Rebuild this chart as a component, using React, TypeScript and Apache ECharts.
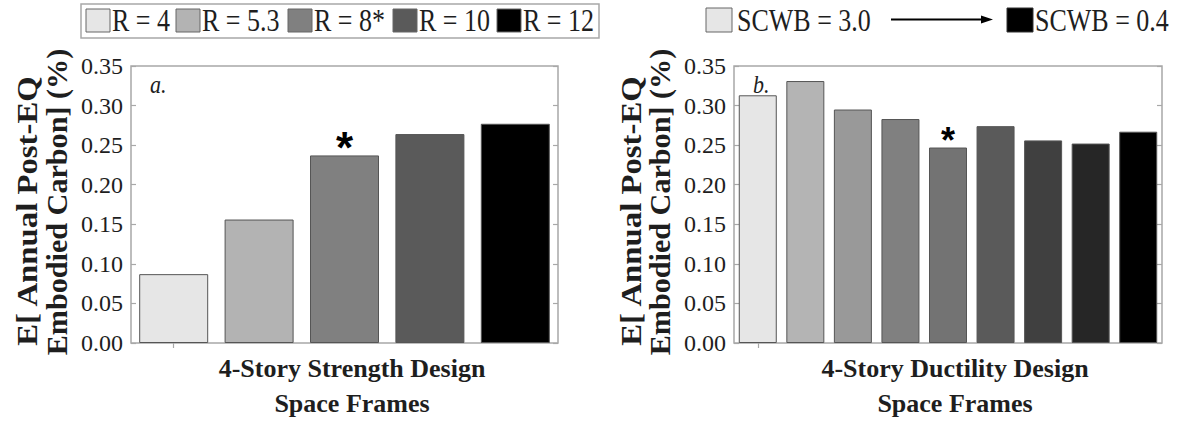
import React, { useEffect, useRef } from "react";
import * as echarts from "echarts";

// ---------- data ----------
const leftCategories = ["R = 4", "R = 5.3", "R = 8*", "R = 10", "R = 12"];
const leftValues = [0.087, 0.156, 0.237, 0.264, 0.277];
const leftStarIndex = 2;

const rightCategories = ["SCWB = 3.0", "D2", "D3", "D4", "D5", "D6", "D7", "D8", "SCWB = 0.4"];
const rightValues = [0.313, 0.331, 0.295, 0.283, 0.247, 0.274, 0.256, 0.252, 0.267];
const rightStarIndex = 4;

const yTickValues = [0, 0.05, 0.1, 0.15, 0.2, 0.25, 0.3, 0.35];

const leftLegendLabels = ["R = 4", "R = 5.3", "R = 8*", "R = 10", "R = 12"];
const rightLegendLabels = ["SCWB = 3.0", "SCWB = 0.4"];

const yTitleLines = ["E[ Annual Post-EQ", "Embodied Carbon] (%)"];
const leftXTitle = ["4-Story Strength Design", "Space Frames"];
const rightXTitle = ["4-Story Ductility Design", "Space Frames"];
const panelTags = ["a.", "b."];

// ---------- styles ----------
const leftColors = ["#e6e6e6", "#b3b3b3", "#808080", "#5a5a5a", "#000000"];
const rightColors = ["#e6e6e6", "#b4b4b4", "#999999", "#808080", "#737373", "#5a5a5a", "#404040", "#262626", "#000000"];
const FONT = "'Liberation Serif', 'Times New Roman', Times, serif";
const TEXT = "#1e1e1e";
const FRAME = "#a8a8a8";
const BAR_BORDER = "#555555";

const GRID_TOP = 66;
const GRID_H = 277;
const LEFT_GRID = { left: 131, width: 427 };
const RIGHT_GRID = { left: 734, width: 428 };

function App() {
  const ref = useRef<HTMLDivElement>(null);

  useEffect(() => {
    document.body.style.margin = "0";
    if (!ref.current) return;
    const chart = echarts.init(ref.current, undefined, { renderer: "svg" });

    const yMin = yTickValues[0];
    const yMax = yTickValues[yTickValues.length - 1];
    const yInterval = yTickValues[1] - yTickValues[0];

    const mkY = (gridIndex: number, position: "left" | "right", showLabel: boolean) => ({
      type: "value",
      gridIndex,
      position,
      min: yMin,
      max: yMax,
      interval: yInterval,
      axisLine: { show: false },
      axisTick: { show: true, inside: true, length: 5, lineStyle: { color: FRAME, width: 1.2 } },
      splitLine: { show: false },
      axisLabel: {
        show: showLabel,
        margin: 8,
        fontSize: 24,
        fontFamily: FONT,
        color: TEXT,
        formatter: (v: number) => v.toFixed(2),
      },
    });

    const mkX = (gridIndex: number, cats: string[], position: "bottom" | "top") => ({
      type: "category",
      gridIndex,
      position,
      data: cats,
      boundaryGap: true,
      axisLine: { show: false },
      axisLabel: { show: false },
      axisTick:
        position === "top"
          ? {
              show: true,
              inside: true,
              length: 5,
              alignWithLabel: true,
              interval: (i: number) => i === 0,
              lineStyle: { color: FRAME, width: 1.2 },
            }
          : { show: false },
    });

    const starLabel = (fontSize: number, dist: number) => ({
      show: true,
      position: "top",
      distance: dist,
      formatter: "*",
      fontSize,
      fontWeight: "bold",
      fontFamily: "'Liberation Sans', Arial, sans-serif",
      color: "#000",
    });

    const leftData = leftValues.map((v, i) => ({
      value: v,
      itemStyle: { color: leftColors[i] },
      label: i === leftStarIndex ? starLabel(44, -14) : { show: false },
    }));
    const rightData = rightValues.map((v, i) => ({
      value: v,
      itemStyle: { color: rightColors[i] },
      label: i === rightStarIndex ? starLabel(36, -11) : { show: false },
    }));

    const graphics: any[] = [];
    // Left legend
    graphics.push({
      type: "rect",
      shape: { x: 81, y: 4, width: 518, height: 34 },
      style: { fill: "#fff", stroke: FRAME, lineWidth: 1.5 },
    });
    const legSqX = [86, 176, 288, 393, 497];
    leftLegendLabels.forEach((lab, i) => {
      graphics.push({
        type: "rect",
        shape: { x: legSqX[i], y: 9, width: 24, height: 23 },
        style: { fill: leftColors[i], stroke: "#666", lineWidth: 1 },
      });
      graphics.push({
        type: "text",
        x: legSqX[i] + 26,
        y: 21,
        scaleY: 1.18,
        style: { text: lab, fontSize: 26, fontFamily: FONT, fill: TEXT, align: "left", verticalAlign: "middle" },
      });
    });
    // Right legend
    graphics.push({
      type: "rect",
      shape: { x: 706, y: 8, width: 26, height: 24 },
      style: { fill: rightColors[0], stroke: "#666", lineWidth: 1 },
    });
    graphics.push({
      type: "text",
      x: 737,
      y: 21,
      scaleY: 1.18,
      style: { text: rightLegendLabels[0], fontSize: 26, fontFamily: FONT, fill: TEXT, align: "left", verticalAlign: "middle" },
    });
    graphics.push({
      type: "line",
      shape: { x1: 891, y1: 19.5, x2: 985, y2: 19.5 },
      style: { stroke: "#000", lineWidth: 2 },
    });
    graphics.push({
      type: "polygon",
      shape: { points: [[981, 15.5], [993, 19.5], [981, 23.5]] },
      style: { fill: "#000" },
    });
    graphics.push({
      type: "rect",
      shape: { x: 1007, y: 8, width: 26, height: 24 },
      style: { fill: rightColors[rightColors.length - 1], stroke: "#333", lineWidth: 1 },
    });
    graphics.push({
      type: "text",
      x: 1035,
      y: 21,
      scaleY: 1.18,
      style: { text: rightLegendLabels[1], fontSize: 26, fontFamily: FONT, fill: TEXT, align: "left", verticalAlign: "middle" },
    });

    // Y titles (two lines, rotated)
    const yTitleX = [
      [27, 57],
      [631, 660],
    ];
    const yTitleY = [211, 202];
    const yTitleStretch = [1.13, 1.04];
    yTitleX.forEach((xs) => {
      yTitleLines.forEach((line, j) => {
        graphics.push({
          type: "text",
          x: xs[j],
          y: yTitleY[j],
          rotation: Math.PI / 2,
          scaleX: yTitleStretch[j],
          style: { text: line, fontSize: 29, fontWeight: "bold", fontFamily: FONT, fill: TEXT, align: "center", verticalAlign: "middle" },
        });
      });
    });

    // X titles
    const xTitles = [
      { lines: leftXTitle, x: 352 },
      { lines: rightXTitle, x: 955 },
    ];
    xTitles.forEach((t) => {
      t.lines.forEach((line, j) => {
        graphics.push({
          type: "text",
          x: t.x,
          y: j === 0 ? 368 : 403,
          style: { text: line, fontSize: 26, fontWeight: "bold", fontFamily: FONT, fill: TEXT, align: "center", verticalAlign: "middle" },
        });
      });
    });

    // panel tags
    graphics.push({
      type: "text",
      x: 150,
      y: 84,
      scaleY: 1.15,
      style: { text: panelTags[0], fontSize: 22, fontStyle: "italic", fontFamily: FONT, fill: TEXT, align: "left", verticalAlign: "middle" },
      z: 100,
    });
    graphics.push({
      type: "text",
      x: 753,
      y: 84,
      scaleY: 1.15,
      style: { text: panelTags[1], fontSize: 22, fontStyle: "italic", fontFamily: FONT, fill: TEXT, align: "left", verticalAlign: "middle" },
      z: 100,
    });

    chart.setOption({
      animation: false,
      backgroundColor: "#ffffff",
      grid: [
        { left: LEFT_GRID.left, top: GRID_TOP, width: LEFT_GRID.width, height: GRID_H, show: true, borderColor: FRAME, borderWidth: 1.5, backgroundColor: "transparent" },
        { left: RIGHT_GRID.left, top: GRID_TOP, width: RIGHT_GRID.width, height: GRID_H, show: true, borderColor: FRAME, borderWidth: 1.5, backgroundColor: "transparent" },
      ],
      xAxis: [
        mkX(0, leftCategories, "bottom"),
        mkX(0, leftCategories, "top"),
        mkX(1, rightCategories, "bottom"),
        mkX(1, rightCategories, "top"),
      ],
      yAxis: [mkY(0, "left", true), mkY(0, "right", false), mkY(1, "left", true), mkY(1, "right", false)],
      series: [
        {
          type: "bar",
          xAxisIndex: 0,
          yAxisIndex: 0,
          data: leftData,
          barWidth: 69,
          itemStyle: { borderColor: BAR_BORDER, borderWidth: 1 },
        },
        {
          type: "bar",
          xAxisIndex: 2,
          yAxisIndex: 2,
          data: rightData,
          barWidth: 38,
          itemStyle: { borderColor: BAR_BORDER, borderWidth: 1 },
        },
      ],
      graphic: graphics,
    });

    return () => {
      chart.dispose();
    };
  }, []);

  return <div ref={ref} style={{ width: 1177, height: 425 }} />;
}

export default App;
